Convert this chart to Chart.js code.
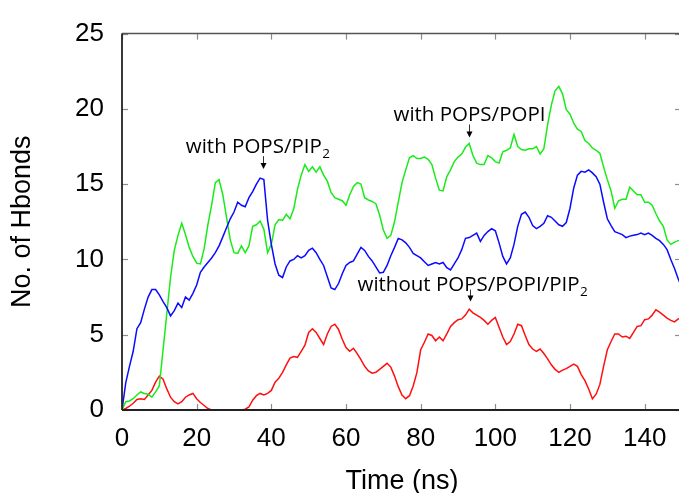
<!DOCTYPE html>
<html>
<head>
<meta charset="utf-8">
<title>Hydrogen bonds over time</title>
<script src="https://cdn.jsdelivr.net/npm/chart.js@4/dist/chart.umd.min.js"></script>
<style>
  html, body { margin: 0; padding: 0; background: #fff; width: 679px; height: 493px; overflow: hidden; }
  #plot { display: block; }
</style>
</head>
<body>
<canvas id="plot" width="684" height="493"></canvas>
<script>
// Simulation time (ns), sampled every 1 ns
const timeNs = [
  0, 1, 2, 3, 4, 5, 6, 7, 8, 9,
  10, 11, 12, 13, 14, 15, 16, 17, 18, 19,
  20, 21, 22, 23, 24, 25, 26, 27, 28, 29,
  30, 31, 32, 33, 34, 35, 36, 37, 38, 39,
  40, 41, 42, 43, 44, 45, 46, 47, 48, 49,
  50, 51, 52, 53, 54, 55, 56, 57, 58, 59,
  60, 61, 62, 63, 64, 65, 66, 67, 68, 69,
  70, 71, 72, 73, 74, 75, 76, 77, 78, 79,
  80, 81, 82, 83, 84, 85, 86, 87, 88, 89,
  90, 91, 92, 93, 94, 95, 96, 97, 98, 99,
  100, 101, 102, 103, 104, 105, 106, 107, 108, 109,
  110, 111, 112, 113, 114, 115, 116, 117, 118, 119,
  120, 121, 122, 123, 124, 125, 126, 127, 128, 129,
  130, 131, 132, 133, 134, 135, 136, 137, 138, 139,
  140, 141, 142, 143, 144, 145, 146, 147, 148, 149,
  150
];

// Number of H-bonds with POPS/POPI (green)
const hbondsPopsPopi = [
  0, 0.55, 0.6, 0.75, 1.0, 1.2, 1.1, 1.05, 0.85, 1.2,
  1.6, 4.0, 6.4, 8.8, 10.6, 11.6, 12.4, 11.65, 10.8, 10.2,
  9.75, 9.7, 10.7, 12.3, 13.6, 15.1, 15.3, 14.3, 12.8, 11.3,
  10.45, 10.4, 10.9, 10.45, 10.9, 12.2, 12.3, 12.55, 12.0, 10.45,
  11.0, 12.3, 12.65, 12.6, 13.0, 12.7, 13.35, 14.65, 15.6, 16.3,
  15.85, 16.15, 15.8, 16.15, 15.6, 15.2, 14.45, 14.1, 14.0, 13.9,
  13.6, 14.3, 14.85, 15.1, 15.0, 14.1, 13.95, 13.85, 13.7, 12.95,
  11.95, 11.4, 11.6, 12.5, 13.8, 15.1, 15.95, 16.75, 16.9, 16.7,
  16.7, 16.8, 16.65, 16.3, 15.4, 14.6, 14.55, 15.5, 15.95, 16.5,
  16.8, 17.0, 17.45, 17.7, 16.9, 16.4, 16.3, 16.3, 16.9, 16.75,
  16.5, 16.4, 17.15, 17.25, 17.4, 18.3, 17.5, 17.3, 17.25, 17.35,
  17.35, 17.5, 17.0, 17.35, 18.95, 20.25, 21.2, 21.5, 21.0, 19.95,
  19.65, 19.05, 18.65, 18.5, 17.9, 17.7, 17.4, 17.25, 17.05, 16.15,
  15.3, 14.55, 13.4, 13.9, 14.0, 14.0, 14.8, 14.55, 14.3, 14.3,
  13.8, 13.8, 13.6, 13.05, 12.55, 12.2, 11.3, 11.0, 11.15, 11.25,
  11.3
];

// Number of H-bonds with POPS/PIP2 (blue)
const hbondsPopsPip2 = [
  0, 1.8, 2.9, 3.9, 5.4, 5.8, 6.7, 7.5, 8.0, 8.0,
  7.65, 7.2, 6.8, 6.25, 6.6, 7.1, 6.8, 7.5, 7.3, 7.75,
  8.3, 9.15, 9.5, 9.8, 10.1, 10.45, 10.9, 11.5, 12.1, 12.7,
  13.15, 13.8, 13.6, 13.5, 14.1, 14.5, 15.0, 15.4, 15.3, 12.6,
  11.0, 9.7, 8.95, 8.8, 9.5, 9.9, 10.0, 10.25, 10.1, 10.25,
  10.6, 10.75, 10.45, 10.0, 9.6, 8.85, 8.1, 8.0, 8.4, 9.05,
  9.6, 9.8, 9.9, 10.35, 10.8, 10.6, 10.2, 9.9, 9.5, 9.1,
  9.15, 9.6, 10.25, 10.8, 11.4, 11.3, 11.1, 10.8, 10.4, 10.25,
  10.1, 9.85, 9.6, 9.7, 9.8, 9.7, 9.8, 9.45, 9.3, 9.7,
  10.1, 10.65, 11.4, 11.45, 11.6, 11.75, 11.2, 11.6, 11.85, 12.05,
  11.9, 11.1, 10.2, 9.7, 10.1, 11.0, 12.2, 13.0, 13.15, 12.8,
  12.25, 12.05, 12.2, 12.4, 12.9, 12.8, 12.55, 12.3, 12.2, 12.45,
  13.4, 14.75, 15.6, 15.85, 15.8, 15.95, 15.75, 15.5, 15.0, 13.8,
  12.7, 12.25, 11.85, 11.75, 11.65, 11.45, 11.55, 11.6, 11.65, 11.75,
  11.65, 11.75, 11.6, 11.4, 11.25, 11.0, 10.65, 10.0, 9.4, 8.7,
  8.1
];

// Number of H-bonds without POPS/POPI/PIP2 (red)
const hbondsNone = [
  0, 0.1, 0.25, 0.45, 0.7, 0.75, 0.7, 1.0, 1.3, 1.85,
  2.25, 2.05, 1.4, 0.85, 0.55, 0.4, 0.55, 0.85, 1.0, 1.1,
  0.75, 0.5, 0.3, 0.1, 0, 0, 0, 0, 0, 0,
  0, 0, 0, 0.05, 0.2, 0.65, 0.95, 1.1, 1.0, 1.1,
  1.3, 1.85, 2.1, 2.5, 3.0, 3.45, 3.55, 3.5, 3.9, 4.3,
  5.15, 5.4, 5.15, 4.75, 4.35, 5.05, 5.55, 5.7, 5.35, 4.7,
  4.15, 3.9, 4.1, 3.75, 3.35, 2.9, 2.6, 2.45, 2.5, 2.7,
  2.9, 3.1, 2.85, 2.25, 1.55, 1.0, 0.75, 0.95, 1.6, 2.5,
  4.0, 4.5, 5.05, 4.95, 4.6, 4.85, 4.6, 5.05, 5.55, 5.8,
  6.0, 6.05, 6.3, 6.7, 6.45, 6.3, 6.15, 5.95, 5.7, 5.95,
  6.15, 5.5, 4.85, 4.35, 4.55, 5.05, 5.7, 5.6, 4.95, 4.35,
  4.05, 3.9, 4.05, 3.75, 3.4, 3.0, 2.7, 2.5, 2.65, 2.75,
  2.9, 3.05, 2.9, 2.35, 1.95, 1.4, 0.75, 1.05, 1.7, 2.9,
  4.0, 4.55, 5.05, 5.05, 4.85, 4.9, 4.75, 5.15, 5.55, 5.6,
  6.0, 6.05, 6.3, 6.65, 6.5, 6.3, 6.1, 5.95, 5.85, 6.05,
  6.1
];

// Axis ticks
const xTickValues = [0, 20, 40, 60, 80, 100, 120, 140];
const yTickValues = [0, 5, 10, 15, 20, 25];

// Callout labels: text, subscript, and the (time, H-bonds) point the arrow marks
const calloutText = ['with POPS/PIP', 'with POPS/POPI', 'without POPS/POPI/PIP'];
const calloutSub = ['2', '', '2'];
const calloutTime = [37.7, 93.0, 93.2];
const calloutValue = [16.0, 18.1, 7.2];

const AXIS_FONT = '"Liberation Sans", Arial, Helvetica, sans-serif';
const NOTE_FONT = '"Open Sans", "Noto Sans", sans-serif';

// Text placement relative to each arrow tip (px)
const calloutLayout = [
  { dx: -77.7, dy: -16.3, shaft: 13 },
  { dx: -76, dy: -16, shaft: 13 },
  { dx: -113, dy: -10.7, shaft: 12 }
];

function series(values) {
  return timeNs.map((t, i) => ({ x: t, y: values[i] }));
}

// Boxed frame with inward tick marks on all four sides
const framePlugin = {
  id: 'frame',
  afterDatasetsDraw(chart) {
    const { ctx, chartArea: a, scales: { x, y } } = chart;
    ctx.save();
    const seg = (x1, y1, x2, y2) => { ctx.beginPath(); ctx.moveTo(x1, y1); ctx.lineTo(x2, y2); ctx.stroke(); };
    ctx.strokeStyle = '#8c8c8c';
    ctx.lineWidth = 1.2;
    xTickValues.forEach(v => {
      const px = Math.round(x.getPixelForValue(v)) + 0.5;
      seg(px, a.bottom, px, a.bottom - 6);
      seg(px, a.top, px, a.top + 6);
    });
    yTickValues.forEach(v => {
      const py = Math.round(y.getPixelForValue(v)) + 0.5;
      seg(a.left, py, a.left + 6, py);
      seg(a.right, py, a.right - 7, py);
    });
    ctx.strokeStyle = '#555';
    ctx.lineWidth = 1.5;
    seg(a.left, a.top, a.right, a.top);
    seg(a.right, a.top, a.right, a.bottom);
    ctx.strokeStyle = '#222';
    ctx.lineWidth = 1.8;
    seg(a.left, a.top, a.left, a.bottom);
    seg(a.left, a.bottom, a.right, a.bottom);
    ctx.restore();
  }
};

// Labels with small down-pointing arrows
const calloutPlugin = {
  id: 'callouts',
  afterDatasetsDraw(chart) {
    const { ctx, scales: { x, y } } = chart;
    ctx.save();
    calloutText.forEach((txt, i) => {
      const lay = calloutLayout[i];
      const ax = Math.round(x.getPixelForValue(calloutTime[i])) + 0.5;
      const tip = y.getPixelForValue(calloutValue[i]);
      // arrow shaft and head
      ctx.strokeStyle = '#333';
      ctx.lineWidth = 1;
      ctx.beginPath();
      ctx.moveTo(ax, tip - lay.shaft);
      ctx.lineTo(ax, tip - 5);
      ctx.stroke();
      ctx.fillStyle = '#000';
      ctx.beginPath();
      ctx.moveTo(ax - 3, tip - 6);
      ctx.lineTo(ax + 3, tip - 6);
      ctx.lineTo(ax, tip);
      ctx.closePath();
      ctx.fill();
      // label text with optional subscript
      const tx = ax + lay.dx;
      const ty = tip + lay.dy;
      ctx.fillStyle = '#000';
      ctx.textAlign = 'left';
      ctx.textBaseline = 'alphabetic';
      ctx.font = '20.5px ' + NOTE_FONT;
      ctx.fillText(txt, tx, ty);
      if (calloutSub[i]) {
        const w = ctx.measureText(txt).width;
        ctx.font = '13.5px ' + NOTE_FONT;
        ctx.fillText(calloutSub[i], tx + w + 0.5, ty + 5);
      }
    });
    ctx.restore();
  }
};

const lineStyle = { pointRadius: 0, borderWidth: 1.5, tension: 0, fill: false };

new Chart(document.getElementById('plot'), {
  type: 'line',
  data: {
    datasets: [
      Object.assign({ label: 'with POPS/PIP2', data: series(hbondsPopsPip2), borderColor: 'rgb(10,10,255)' }, lineStyle),
      Object.assign({ label: 'with POPS/POPI', data: series(hbondsPopsPopi), borderColor: 'rgb(25,235,25)' }, lineStyle),
      Object.assign({ label: 'without POPS/POPI/PIP2', data: series(hbondsNone), borderColor: 'rgb(255,15,15)' }, lineStyle)
    ]
  },
  options: {
    responsive: false,
    animation: false,
    devicePixelRatio: 1,
    layout: { padding: { top: 24, right: 2, left: 0, bottom: 0 } },
    plugins: { legend: { display: false }, tooltip: { enabled: false } },
    scales: {
      x: {
        type: 'linear',
        min: 0,
        max: 150,
        afterFit(s) { s.height = 83; },
        afterBuildTicks(s) { s.ticks = xTickValues.map(v => ({ value: v })); },
        grid: { display: false, drawTicks: false },
        border: { display: false },
        ticks: { autoSkip: false, maxRotation: 0, padding: 13, color: '#000', font: { family: AXIS_FONT, size: 26 } },
        title: { display: true, text: 'Time (ns)', color: '#000', font: { family: AXIS_FONT, size: 27 }, padding: { top: 0, bottom: -5 } }
      },
      y: {
        type: 'linear',
        min: 0,
        max: 25,
        afterFit(s) { s.width = 122; },
        afterBuildTicks(s) { s.ticks = yTickValues.map(v => ({ value: v })); },
        grid: { display: false, drawTicks: false },
        border: { display: false },
        ticks: { autoSkip: false, padding: 18, color: '#000', font: { family: AXIS_FONT, size: 26 } },
        title: { display: true, text: 'No. of Hbonds', color: '#000', font: { family: AXIS_FONT, size: 27 }, padding: { top: 6, bottom: 0 } }
      }
    }
  },
  plugins: [framePlugin, calloutPlugin]
});
</script>
</body>
</html>
